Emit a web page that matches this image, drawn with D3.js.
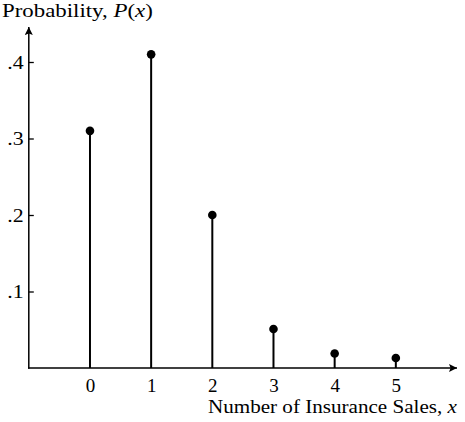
<!DOCTYPE html>
<html>
<head>
<meta charset="utf-8">
<script src="https://cdn.jsdelivr.net/npm/d3@7"></script>
<style>
  html, body { margin: 0; padding: 0; background: #fff; }
  svg { display: block; }
  text { font-family: "Liberation Serif", "DejaVu Serif", serif; fill: #000; }
</style>
</head>
<body>
<svg id="chart" width="465" height="422"></svg>
<script>
const categories = [0, 1, 2, 3, 4, 5];
const probabilities = [0.310, 0.410, 0.200, 0.051, 0.019, 0.013];
const yTickValues = [0.1, 0.2, 0.3, 0.4];
const yTickLabels = [".1", ".2", ".3", ".4"];
const xTickLabels = ["0", "1", "2", "3", "4", "5"];

const svg = d3.select("#chart");
const x = d3.scaleLinear().domain([-1, 6]).range([28.8, 457]);
const y = d3.scaleLinear().domain([0, 0.4]).range([368, 62]);

// arrow markers
const defs = svg.append("defs");
defs.append("marker").attr("id", "arrow")
  .attr("viewBox", "0 0 10 10").attr("refX", 10).attr("refY", 5)
  .attr("markerUnits", "userSpaceOnUse")
  .attr("markerWidth", 14).attr("markerHeight", 8)
  .attr("orient", "auto")
  .append("path").attr("d", "M0,0 L10,5 L0,10 L2,5 Z").attr("fill", "#000");

// y axis
const yAxis = d3.axisLeft(y).tickValues(yTickValues)
  .tickFormat((d, i) => yTickLabels[i]).tickSize(-5).tickPadding(4.5);
const gy = svg.append("g").attr("transform", `translate(${x(-1)},0)`).call(yAxis);
gy.select(".domain").remove();
gy.selectAll(".tick line").attr("stroke", "#000").attr("stroke-width", 1.3);
gy.selectAll(".tick text").attr("font-size", 19)
  .attr("font-family", "Liberation Serif, serif")
  .attr("transform", "scale(1.15,1)");

// y axis line with arrow
svg.append("line").attr("x1", x(-1)).attr("x2", x(-1))
  .attr("y1", y(0) + 0.7).attr("y2", 27)
  .attr("stroke", "#000").attr("stroke-width", 1.5).attr("marker-end", "url(#arrow)");

// x axis
const xAxis = d3.axisBottom(x).tickValues(categories)
  .tickFormat((d, i) => xTickLabels[i]).tickSize(0).tickPadding(11);
const gx = svg.append("g").attr("transform", `translate(0,${y(0)})`).call(xAxis);
gx.select(".domain").remove();
gx.selectAll(".tick text").attr("font-size", 19)
  .attr("font-family", "Liberation Serif, serif");
svg.append("line").attr("x1", x(-1) - 0.7).attr("x2", x(6))
  .attr("y1", y(0)).attr("y2", y(0))
  .attr("stroke", "#000").attr("stroke-width", 1.5).attr("marker-end", "url(#arrow)");

// stems
svg.append("g").selectAll("line").data(categories).join("line")
  .attr("x1", d => x(d)).attr("x2", d => x(d))
  .attr("y1", y(0)).attr("y2", (d, i) => y(probabilities[i]))
  .attr("stroke", "#000").attr("stroke-width", 2);
svg.append("g").selectAll("circle").data(categories).join("circle")
  .attr("cx", d => x(d)).attr("cy", (d, i) => y(probabilities[i]))
  .attr("r", 4.3).attr("fill", "#000");

// stretch a text element horizontally to span [left, right]
function fitWidth(sel, left, right) {
  const bb = sel.node().getBBox();
  const sx = (right - left) / bb.width;
  sel.attr("transform", `translate(${left},0) scale(${sx},1) translate(${-bb.x},0)`);
}

// titles
const yt = svg.append("text").attr("x", 2).attr("y", 17.5).attr("font-size", 18.5);
yt.append("tspan").text("Probability, ");
yt.append("tspan").attr("font-style", "italic").text("P");
yt.append("tspan").text("(");
yt.append("tspan").attr("font-style", "italic").text("x");
yt.append("tspan").text(")");
fitWidth(yt, 2, 153);

const xt = svg.append("text").attr("x", 208).attr("y", 413).attr("font-size", 18.5);
xt.append("tspan").text("Number of Insurance Sales, ");
xt.append("tspan").attr("font-style", "italic").text("x");
fitWidth(xt, 208, 458);
</script>
</body>
</html>
